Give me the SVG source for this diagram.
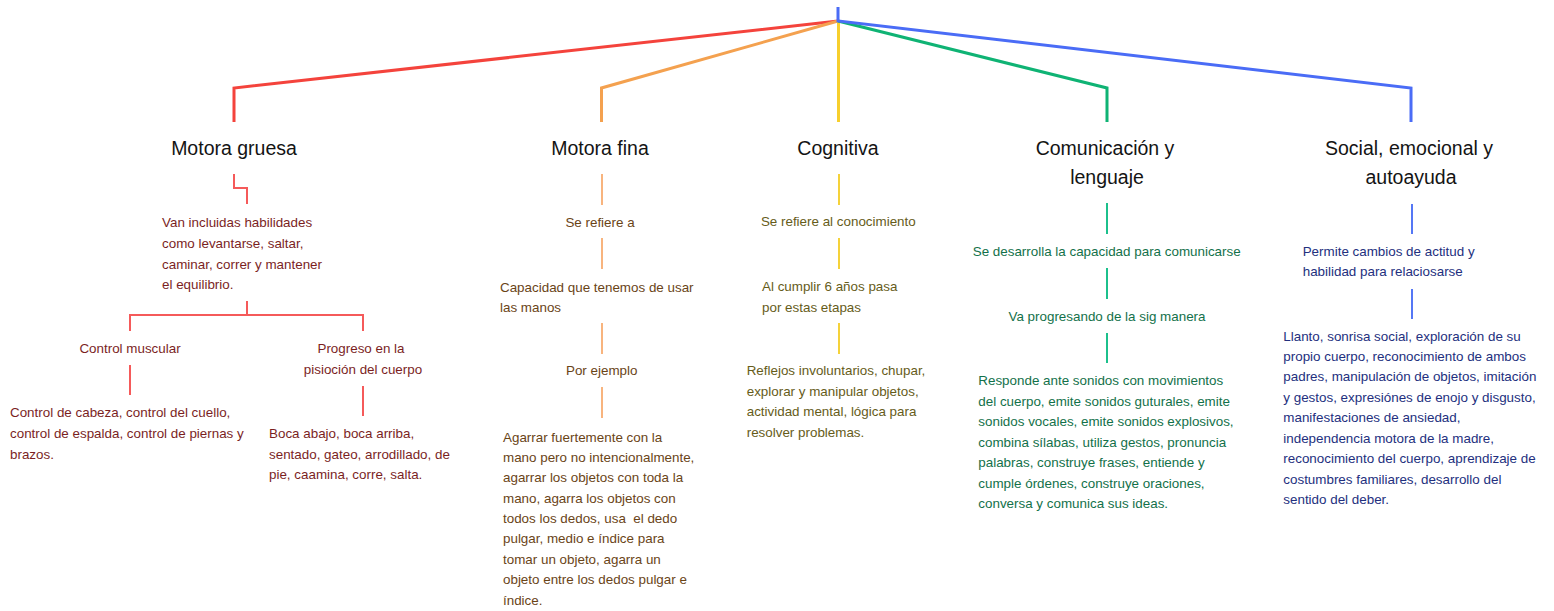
<svg xmlns="http://www.w3.org/2000/svg" width="1554" height="611" viewBox="0 0 1554 611">
<style>
.t{font-family:"Liberation Sans",Arial,sans-serif;font-size:19.5px;fill:#141414;text-anchor:middle}
.s{font-family:"Liberation Sans",Arial,sans-serif;font-size:13.4px}
.c{text-anchor:middle}
.main{fill:none;stroke-width:3;stroke-linejoin:miter}
.sub{fill:none;stroke-width:2}
.r{fill:#7b1f1f}.o{fill:#6a4417}.y{fill:#665c1a}.g{fill:#13714a}.b{fill:#23307e}
</style>
<rect width="1554" height="611" fill="#ffffff"/>
<g id="connectors">
<path class="main" stroke="#f4433c" d="M838 21 L234 88 L234 122"/>
<path class="main" stroke="#f4a14f" d="M838 21 L601.5 88 L601.5 122"/>
<path class="main" stroke="#f7cf2d" stroke-width="2" d="M838.5 21 L838.5 122"/>
<path class="main" stroke="#0fb374" d="M838 21 L1107 88 L1107 122"/>
<path class="main" stroke="#4a6cf6" d="M838 7 L838 21 L1411 88 L1411 122"/>
<path class="sub" stroke="#f55a5a" d="M234 174 L234 188 L247 188 L247 204"/>
<path class="sub" stroke="#f55a5a" d="M247 301 L247 315 M130 331 L130 315 L363 315 L363 331"/>
<path class="sub" stroke="#f55a5a" d="M130 365 L130 395 M363 386 L363 416"/>
<path class="sub" stroke="#f8b47e" d="M602 174 L602 205 M602 238 L602 269 M602 323 L602 354 M602 387 L602 418"/>
<path class="sub" stroke="#f5d23a" d="M839 174 L839 205 M839 238 L839 269 M839 323 L839 354"/>
<path class="sub" stroke="#1cc08c" d="M1107 203 L1107 234 M1107 268 L1107 299 M1107 333 L1107 363"/>
<path class="sub" stroke="#5577f5" d="M1412 204 L1412 234 M1412 289 L1412 319"/>
</g>
<g id="motora-gruesa"><text class="t" x="234" y="155">Motora gruesa</text></g>
<g id="motora-fina"><text class="t" x="600" y="155">Motora fina</text></g>
<g id="cognitiva"><text class="t" x="838" y="155">Cognitiva</text></g>
<g id="comunicacion"><text class="t" x="1105" y="155">Comunicación y</text><text class="t" x="1107" y="184">lenguaje</text></g>
<g id="social"><text class="t" x="1409" y="155">Social, emocional y</text><text class="t" x="1411" y="184">autoayuda</text></g>
<g id="mg-1"><text class="s r" x="162"><tspan x="162" y="227">Van incluidas habilidades</tspan><tspan x="162" y="248">como levantarse, saltar,</tspan><tspan x="162" y="268.7">caminar, correr y mantener</tspan><tspan x="162" y="289.3">el equilibrio.</tspan></text></g>
<g id="mg-control"><text class="s r c" x="130" y="353">Control muscular</text></g>
<g id="mg-progreso"><text class="s r c"><tspan x="361" y="353">Progreso en la</tspan><tspan x="363" y="374">pisioción del cuerpo</tspan></text></g>
<g id="mg-control-det"><text class="s r"><tspan x="10" y="417.3">Control de cabeza, control del cuello,</tspan><tspan x="10" y="438.3">control de espalda, control de piernas y</tspan><tspan x="10" y="458.7">brazos.</tspan></text></g>
<g id="mg-progreso-det"><text class="s r"><tspan x="269" y="438.3">Boca abajo, boca arriba,</tspan><tspan x="269" y="459.3">sentado, gateo, arrodillado, de</tspan><tspan x="269" y="479.3">pie, caamina, corre, salta.</tspan></text></g>
<g id="mf-1"><text class="s o c" x="600" y="226.7">Se refiere a</text></g>
<g id="mf-2"><text class="s o"><tspan x="500" y="291.7">Capacidad que tenemos de usar</tspan><tspan x="500" y="311.7">las manos</tspan></text></g>
<g id="mf-3"><text class="s o c" x="601.7" y="375">Por ejemplo</text></g>
<g id="mf-4"><text class="s o"><tspan x="503" y="441.7">Agarrar fuertemente con la</tspan><tspan x="503" y="462">mano pero no intencionalmente,</tspan><tspan x="503" y="482.3">agarrar los objetos con toda la</tspan><tspan x="503" y="502.7">mano, agarra los objetos con</tspan><tspan x="503" y="523.3" xml:space="preserve">todos los dedos, usa  el dedo</tspan><tspan x="503" y="543.3">pulgar, medio e índice para</tspan><tspan x="503" y="564">tomar un objeto, agarra un</tspan><tspan x="503" y="584.3">objeto entre los dedos pulgar e</tspan><tspan x="503" y="605">índice.</tspan></text></g>
<g id="cg-1"><text class="s y c" x="838.3" y="226">Se refiere al conocimiento</text></g>
<g id="cg-2"><text class="s y"><tspan x="762" y="291">Al cumplir 6 años pasa</tspan><tspan x="762" y="311.7">por estas etapas</tspan></text></g>
<g id="cg-3"><text class="s y"><tspan x="746.7" y="375">Reflejos involuntarios, chupar,</tspan><tspan x="746.7" y="395.7">explorar y manipular objetos,</tspan><tspan x="746.7" y="416">actividad mental, lógica para</tspan><tspan x="746.7" y="436.7">resolver problemas.</tspan></text></g>
<g id="cl-1"><text class="s g c" x="1106.7" y="255.7">Se desarrolla la capacidad para comunicarse</text></g>
<g id="cl-2"><text class="s g c" x="1107" y="321">Va progresando de la sig manera</text></g>
<g id="cl-3"><text class="s g"><tspan x="978.3" y="385">Responde ante sonidos con movimientos</tspan><tspan x="978.3" y="405.7">del cuerpo, emite sonidos guturales, emite</tspan><tspan x="978.3" y="426">sonidos vocales, emite sonidos explosivos,</tspan><tspan x="978.3" y="446.7">combina sílabas, utiliza gestos, pronuncia</tspan><tspan x="978.3" y="467.3">palabras, construye frases, entiende y</tspan><tspan x="978.3" y="487.7">cumple órdenes, construye oraciones,</tspan><tspan x="978.3" y="508.3">conversa y comunica sus ideas.</tspan></text></g>
<g id="se-1"><text class="s b"><tspan x="1302.7" y="256">Permite cambios de actitud y</tspan><tspan x="1302.7" y="276">habilidad para relaciosarse</tspan></text></g>
<g id="se-2"><text class="s b"><tspan x="1283.3" y="340.7">Llanto, sonrisa social, exploración de su</tspan><tspan x="1283.3" y="360.7">propio cuerpo, reconocimiento de ambos</tspan><tspan x="1283.3" y="381">padres, manipulación de objetos, imitación</tspan><tspan x="1283.3" y="401.7">y gestos, expresiónes de enojo y disgusto,</tspan><tspan x="1283.3" y="422.3">manifestaciones de ansiedad,</tspan><tspan x="1283.3" y="442.7">independencia motora de la madre,</tspan><tspan x="1283.3" y="463.3">reconocimiento del cuerpo, aprendizaje de</tspan><tspan x="1283.3" y="484">costumbres familiares, desarrollo del</tspan><tspan x="1283.3" y="504.3">sentido del deber.</tspan></text></g>
</svg>
